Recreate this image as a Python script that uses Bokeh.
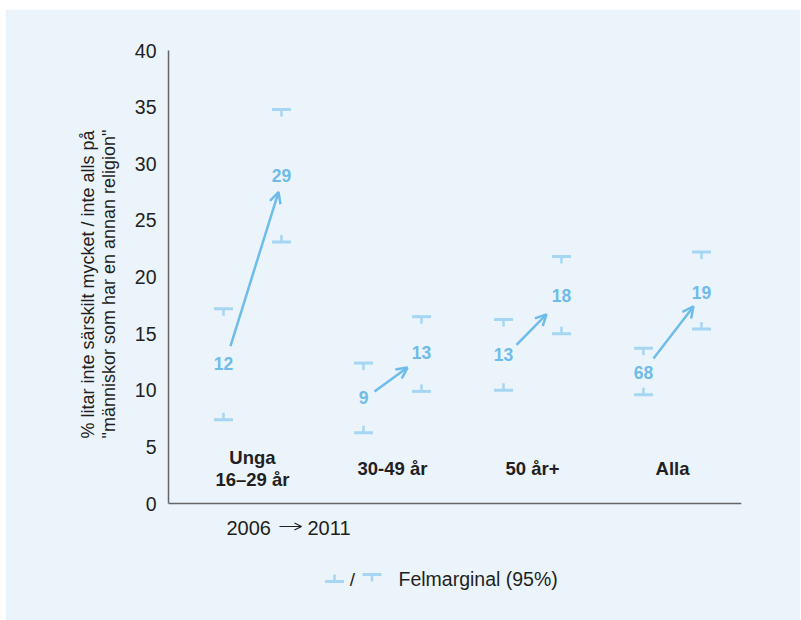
from bokeh.plotting import figure
from bokeh.models import Range1d, FixedTicker, Label, Arrow, OpenHead, ColumnDataSource, LinearAxis, Title
from bokeh.core.properties import value
from bokeh.embed import file_html
from bokeh.resources import INLINE

# ---------------- data ----------------
groups = ["Unga\n16–29 år", "30-49 år", "50 år+", "Alla"]
val_2006 = [12.4, 9.4, 13.2, 11.6]
val_2011 = [29.0, 13.3, 18.4, 18.6]
lbl_2006 = ["12", "9", "13", "68"]
lbl_2011 = ["29", "13", "18", "19"]
lo_2006 = [7.4, 6.25, 10.0, 9.6]
hi_2006 = [17.2, 12.4, 16.25, 13.7]
lo_2011 = [23.1, 9.9, 15.0, 15.4]
hi_2011 = [34.8, 16.5, 21.8, 22.2]
arrow_from = [13.9, 9.9, 14.0, 12.8]
arrow_to = [27.5, 12.0, 16.7, 17.4]
y_ticks = [0, 5, 10, 15, 20, 25, 30, 35, 40]
y_title = "% litar inte särskilt mycket / inte alls på\n\"människor som har en annan religion\""
year_from = "2006"
year_to = "2011"
legend_text = "Felmarginal (95%)"

# ---------------- style ----------------
BG = "#ebf3fb"
TXT = "#231f20"
BLUE = "#6fbce9"
ERR = "#a6d6f1"
AXIS = "#666666"
FONT = "Liberation Sans"

PX_X = 1 / 140.0      # data units per pixel (x)
PX_Y = 1 / 11.325     # data units per pixel (y)
OFF = 29 * PX_X       # year offset from group centre
HW = 9.5 * PX_X       # half-width of error bar
STEM = 7 * PX_Y       # stem length
arrow_x0_px = [-22, -18, -16, -19]
arrow_x1_px = [26, 15, 14, 21]


def sx(px):
    """page x pixel -> data x"""
    return -0.6 + (px - 168) * PX_X


def sy(py):
    """page y pixel -> data y"""
    return (503 - py) * PX_Y


p = figure(frame_width=573, frame_height=570,
           x_range=Range1d(-0.6, 3.493), y_range=Range1d(-10.33, 40),
           output_backend="svg", toolbar_location=None,
           min_border_left=163, min_border_top=41, min_border_right=59, min_border_bottom=0,
           x_axis_location=None,
           background_fill_color=BG, border_fill_color=BG,
           outline_line_color=BG, outline_line_width=2)
p.margin = (9, 0, 0, 5)
p.xgrid.visible = False
p.ygrid.visible = False

# y axis
ya = p.yaxis[0]
ya.ticker = FixedTicker(ticks=y_ticks)
ya.bounds = (0, 40)
ya.axis_line_color = AXIS
ya.axis_line_width = 1.5
ya.major_tick_line_color = None
ya.minor_tick_line_color = None
ya.major_label_text_font = FONT
ya.major_label_text_font_size = "19.5px"
ya.major_label_text_color = TXT
ya.major_label_standoff = 6

# y title (two lines, placed along the 0–40 part of the axis)
p.add_layout(Title(text=y_title, align="left", offset=182, standoff=26,
                   text_font=FONT, text_font_size="18px", text_font_style="normal",
                   text_color=TXT, text_line_height=1.05), "left")

# x axis at y = 0
xa = LinearAxis(fixed_location=0, ticker=FixedTicker(ticks=[]),
                axis_line_color=AXIS, axis_line_width=1.5,
                major_tick_line_color=None, minor_tick_line_color=None,
                major_label_text_font_size="0px")
p.add_layout(xa, "below")

# error bars
hx0, hx1, hy, stx, sty0, sty1 = [], [], [], [], [], []
for i in range(len(groups)):
    for xc, lo, hi in ((i - OFF, lo_2006[i], hi_2006[i]), (i + OFF, lo_2011[i], hi_2011[i])):
        hx0.append(xc - HW); hx1.append(xc + HW); hy.append(hi)
        stx.append(xc); sty0.append(hi); sty1.append(hi - STEM)
        hx0.append(xc - HW); hx1.append(xc + HW); hy.append(lo)
        stx.append(xc); sty0.append(lo); sty1.append(lo + STEM)
p.segment(x0=hx0, y0=hy, x1=hx1, y1=hy, line_color=ERR, line_width=3)
p.segment(x0=stx, y0=sty0, x1=stx, y1=sty1, line_color=ERR, line_width=2.5)

# arrows
asrc = ColumnDataSource(dict(
    x0=[i + arrow_x0_px[i] * PX_X for i in range(len(groups))],
    x1=[i + arrow_x1_px[i] * PX_X for i in range(len(groups))],
    y0=arrow_from, y1=arrow_to))
p.add_layout(Arrow(x_start="x0", y_start="y0", x_end="x1", y_end="y1", source=asrc,
                   line_color=BLUE, line_width=2.5,
                   end=OpenHead(size=11, line_color=BLUE, line_width=2.5)))

# value labels
p.text(x=[i - OFF for i in range(len(groups))], y=val_2006, text=lbl_2006,
       text_align="center", text_baseline="middle", text_font=value(FONT),
       text_font_style="bold", text_font_size="17.5px", text_color=BLUE)
p.text(x=[i + OFF for i in range(len(groups))], y=val_2011, text=lbl_2011,
       text_align="center", text_baseline="middle", text_font=value(FONT),
       text_font_style="bold", text_font_size="17.5px", text_color=BLUE)

# group labels
gx, gy, gt = [], [], []
LINE = 22.5 * PX_Y
base_y = sy(468)
for i, g in enumerate(groups):
    lines = g.split("\n")
    n = len(lines)
    for k, t in enumerate(lines):
        gx.append(i)
        gy.append(base_y + ((n - 1) / 2 - k) * LINE)
        gt.append(t)
p.text(x=gx, y=gy, text=gt, text_align="center", text_baseline="middle",
       text_font=value(FONT), text_font_style="bold", text_font_size="18.5px", text_color=TXT)

# years caption: 2006 ⟶ 2011
p.add_layout(Label(x=sx(226), y=sy(527), text=year_from, text_align="left", text_baseline="middle",
                   text_font=FONT, text_font_size="20px", text_color=TXT))
p.add_layout(Arrow(x_start=sx(279), y_start=sy(526), x_end=sx(301), y_end=sy(526),
                   line_color=TXT, line_width=1.2,
                   end=OpenHead(size=7, line_color=TXT, line_width=1.2)))
p.add_layout(Label(x=sx(307), y=sy(527), text=year_to, text_align="left", text_baseline="middle",
                   text_font=FONT, text_font_size="20px", text_color=TXT))

# legend
lx1 = sx(334)
lx2 = sx(371.5)
ly_lo = sy(581)
ly_hi = sy(574)
p.segment(x0=[lx1 - HW, lx2 - HW], y0=[ly_lo, ly_hi], x1=[lx1 + HW, lx2 + HW], y1=[ly_lo, ly_hi],
          line_color=ERR, line_width=3)
p.segment(x0=[lx1, lx2], y0=[ly_lo, ly_hi], x1=[lx1, lx2], y1=[ly_lo + STEM, ly_hi - STEM],
          line_color=ERR, line_width=2.5)
p.add_layout(Label(x=sx(352), y=sy(579), text="/", text_align="center", text_baseline="middle",
                   text_font=FONT, text_font_size="19px", text_color=TXT))
p.add_layout(Label(x=sx(398), y=sy(578), text=legend_text, text_align="left", text_baseline="middle",
                   text_font=FONT, text_font_size="19.5px", text_color=TXT))

open("out.html", "w").write(file_html(p, INLINE))
